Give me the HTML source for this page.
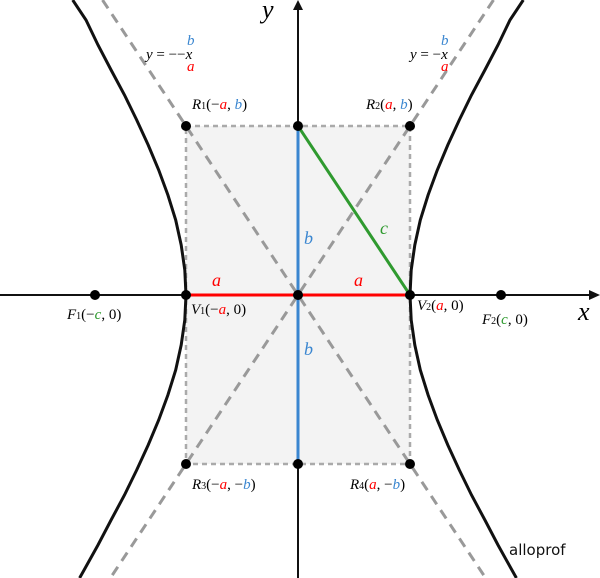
<!DOCTYPE html>
<html><head><meta charset="utf-8"><style>
html,body{margin:0;padding:0;background:#fff}
svg{display:block}
text{font-family:"Liberation Serif",serif;font-style:italic}
.n{font-style:normal}
</style></head><body>
<svg width="600" height="578" viewBox="0 0 600 578" xmlns="http://www.w3.org/2000/svg">
<rect x="186" y="126" width="224" height="338" fill="#f3f3f3" stroke="#aaa" stroke-width="2.5" stroke-dasharray="5,4"/>
<g stroke="#999" stroke-width="3" stroke-dasharray="10,7">
<line x1="102.5" y1="0" x2="485.6" y2="578"/>
<line x1="493.5" y1="0" x2="110.4" y2="578"/>
</g>
<g fill="none" stroke="#111" stroke-width="3">
<polyline points="523.3,0 510,20 498,45 484.9,70 471.5,95 459.3,120 447.8,145 437.3,170 428.1,195 420.3,220 414.8,245 411.2,270 410,295 411.2,320 414.8,345 420.3,370 428.1,395 437.3,420 447.8,445 459.3,470 471.5,495 484.9,520 498,545 511.9,570 516.4,578"/>
<polyline points="72.7,0 86,20 98,45 111.1,70 124.5,95 136.7,120 148.2,145 158.7,170 167.9,195 175.7,220 181.2,245 184.8,270 186,295 184.8,320 181.2,345 175.7,370 167.9,395 158.7,420 148.2,445 136.7,470 124.5,495 111.1,520 98,545 84.1,570 79.6,578"/>
</g>
<line x1="0" y1="295" x2="592" y2="295" stroke="#111" stroke-width="2"/>
<polygon points="600,295 589,290 589,300" fill="#111"/>
<line x1="298" y1="578" x2="298" y2="8" stroke="#111" stroke-width="2"/>
<polygon points="298,0 293,10 303,10" fill="#111"/>
<line x1="298" y1="126" x2="298" y2="464" stroke="#3a86d0" stroke-width="3"/>
<line x1="186" y1="295" x2="410" y2="295" stroke="#f00" stroke-width="3"/>
<line x1="298" y1="126" x2="410" y2="295" stroke="#2f9a2f" stroke-width="3"/>
<g fill="#000">
<circle cx="95" cy="295" r="5"/><circle cx="186" cy="295" r="5"/><circle cx="298" cy="295" r="5"/>
<circle cx="410" cy="295" r="5"/><circle cx="501" cy="295" r="5"/>
<circle cx="186" cy="126" r="5"/><circle cx="298" cy="126" r="5"/><circle cx="410" cy="126" r="5"/>
<circle cx="186" cy="464" r="5"/><circle cx="298" cy="464" r="5"/><circle cx="410" cy="464" r="5"/>
</g>
<text x="262" y="18" font-size="26">y</text>
<text x="578" y="320" font-size="26">x</text>
<text x="212" y="286" font-size="18" fill="#f00">a</text>
<text x="354" y="286" font-size="18" fill="#f00">a</text>
<text x="304" y="244" font-size="18" fill="#3a86d0">b</text>
<text x="304" y="355" font-size="18" fill="#3a86d0">b</text>
<text x="380" y="234" font-size="18" fill="#2f9a2f">c</text>
<g font-size="15">
<text x="146" y="59">y <tspan class="n">= −−</tspan>x</text>
<text x="187" y="45" fill="#3a86d0" font-size="15">b</text>
<text x="187" y="71" fill="#f00" font-size="15">a</text>
<text x="410" y="59">y <tspan class="n">= −</tspan>x</text>
<text x="441" y="45" fill="#3a86d0" font-size="15">b</text>
<text x="441" y="71" fill="#f00" font-size="15">a</text>
<text x="192" y="109">R<tspan font-size="10" class="n">1</tspan><tspan class="n">(−</tspan><tspan fill="#f00">a</tspan><tspan class="n">, </tspan><tspan fill="#3a86d0">b</tspan><tspan class="n">)</tspan></text>
<text x="366" y="109">R<tspan font-size="10" class="n">2</tspan><tspan class="n">(</tspan><tspan fill="#f00">a</tspan><tspan class="n">, </tspan><tspan fill="#3a86d0">b</tspan><tspan class="n">)</tspan></text>
<text x="192" y="489">R<tspan font-size="10" class="n">3</tspan><tspan class="n">(−</tspan><tspan fill="#f00">a</tspan><tspan class="n">, −</tspan><tspan fill="#3a86d0">b</tspan><tspan class="n">)</tspan></text>
<text x="350" y="489">R<tspan font-size="10" class="n">4</tspan><tspan class="n">(</tspan><tspan fill="#f00">a</tspan><tspan class="n">, −</tspan><tspan fill="#3a86d0">b</tspan><tspan class="n">)</tspan></text>
<text x="67" y="319">F<tspan font-size="10" class="n">1</tspan><tspan class="n">(−</tspan><tspan fill="#2f9a2f">c</tspan><tspan class="n">, 0)</tspan></text>
<text x="191" y="314">V<tspan font-size="10" class="n">1</tspan><tspan class="n">(−</tspan><tspan fill="#f00">a</tspan><tspan class="n">, 0)</tspan></text>
<text x="417" y="310">V<tspan font-size="10" class="n">2</tspan><tspan class="n">(</tspan><tspan fill="#f00">a</tspan><tspan class="n">, 0)</tspan></text>
<text x="482" y="324">F<tspan font-size="10" class="n">2</tspan><tspan class="n">(</tspan><tspan fill="#2f9a2f">c</tspan><tspan class="n">, 0)</tspan></text>
</g>
<text x="509" y="555" font-size="15" style="font-family:'DejaVu Sans',sans-serif;font-style:normal" fill="#111">alloprof</text>
</svg>
</body></html>
